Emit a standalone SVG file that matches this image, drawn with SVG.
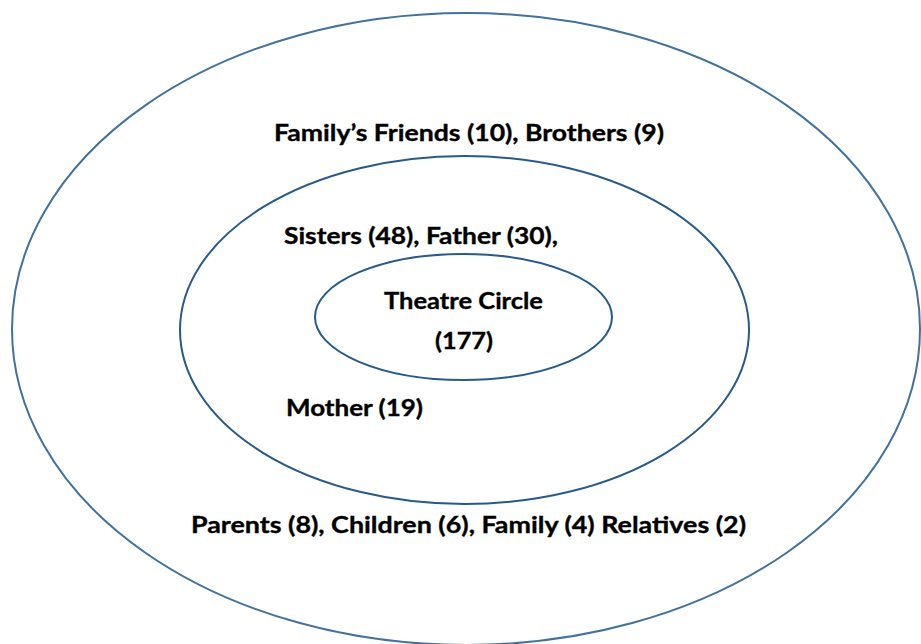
<svg xmlns="http://www.w3.org/2000/svg" width="921" height="644" viewBox="0 0 921 644">
<style>
.e{fill:none;stroke-width:2}
.outer{stroke:#41719c}
.mid{stroke:#265a8a}
.t{font-family:Lato,"Liberation Sans",sans-serif;font-weight:bold;font-size:22.5px;fill:#000;stroke:#000;stroke-width:0.35}
</style>
<rect width="921" height="644" fill="#fff"/>
<g id="outer">
<ellipse class="e outer" cx="466" cy="329" rx="454" ry="316"/>
<text class="t" x="274" y="141" textLength="390" lengthAdjust="spacingAndGlyphs">Family’s Friends (10), Brothers (9)</text>
<text class="t" x="191" y="533" textLength="555" lengthAdjust="spacingAndGlyphs">Parents (8), Children (6), Family (4) Relatives (2)</text>
</g>
<g id="middle">
<ellipse class="e mid" cx="464.5" cy="330" rx="284.5" ry="174"/>
<text class="t" x="284" y="244" textLength="274" lengthAdjust="spacingAndGlyphs">Sisters (48), Father (30),</text>
<text class="t" x="286" y="416" textLength="137" lengthAdjust="spacingAndGlyphs">Mother (19)</text>
</g>
<g id="inner">
<ellipse class="e mid" cx="463.5" cy="317" rx="148.5" ry="63"/>
<text class="t" x="384" y="309" textLength="159" lengthAdjust="spacingAndGlyphs">Theatre Circle</text>
<text class="t" x="435" y="349" textLength="58" lengthAdjust="spacingAndGlyphs">(177)</text>
</g>
<g id="connectors"/>
</svg>
